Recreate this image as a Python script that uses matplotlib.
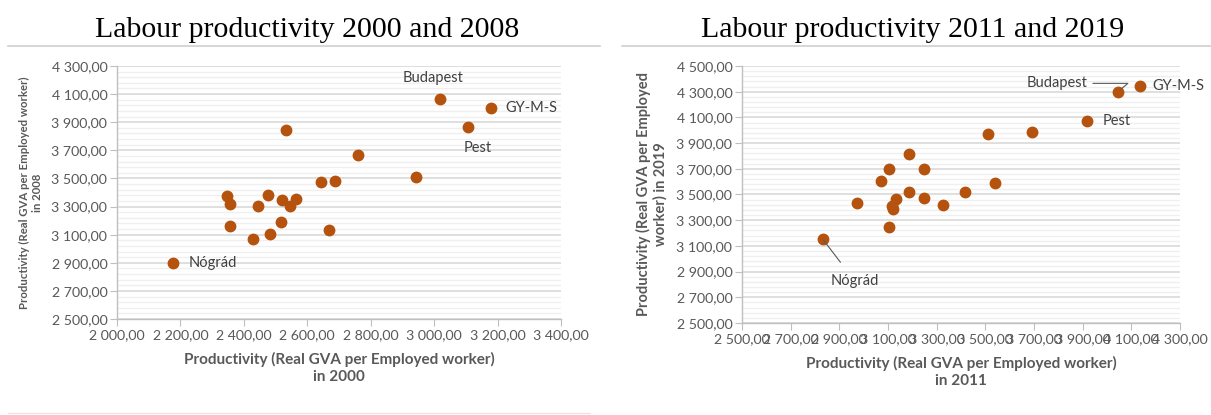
import matplotlib
matplotlib.use("Agg")
import matplotlib.pyplot as plt
from matplotlib.ticker import MultipleLocator, FuncFormatter
from matplotlib.lines import Line2D

# ---- data: left chart (2000 vs 2008) ----
x_2000 = [3018, 3178, 3107, 2533, 2760, 2644, 2687, 2942, 2348, 2356, 2445,
          2476, 2520, 2547, 2564, 2356, 2518, 2481, 2429, 2669, 2177]
y_2008 = [4067, 4003, 3868, 3847, 3664, 3472, 3479, 3508, 3375, 3315, 3304,
          3380, 3346, 3301, 3351, 3159, 3192, 3104, 3069, 3133, 2898]
names_left = ["Budapest", "GY-M-S", "Pest", "", "", "", "", "", "", "", "",
              "", "", "", "", "", "", "", "", "", "Nógrád"]

# ---- data: right chart (2011 vs 2019) ----
x_2011 = [4045, 4135, 3918, 3693, 3512, 3188, 3104, 3249, 3072, 3538,
          2971, 3133, 3186, 3246, 3328, 3416, 3116, 3122, 3104, 2832]
y_2019 = [4300, 4342, 4070, 3988, 3970, 3812, 3698, 3698, 3607, 3587,
          3432, 3465, 3517, 3473, 3419, 3522, 3408, 3385, 3250, 3152]
names_right = ["Budapest", "GY-M-S", "Pest", "", "", "", "", "", "", "",
               "", "", "", "", "", "", "", "", "", "Nógrád"]

titles = ["Labour productivity 2000 and 2008", "Labour productivity 2011 and 2019"]
xlabels = ["Productivity (Real GVA per Employed worker)\nin 2000",
           "Productivity (Real GVA per Employed worker)\nin 2011"]
ylabels = ["Productivity (Real GVA per Employed worker)\nin 2008",
           "Productivity (Real GVA per Employed\nworker) in 2019"]

MARK = "#B4520E"
TXT = "#595959"
GRID = "#D9D9D9"
MINOR = "#EFEFEF"
SPINE = "#BFBFBF"
SANS = ["Lato", "DejaVu Sans"]

def fmt(v, pos):
    s = f"{v:,.2f}"
    return s.replace(",", " ").replace(".", ",")

fig = plt.figure(figsize=(12.11, 4.15), dpi=100)
W, H = 1211, 415

def px_axes(l, r, t, b):
    return fig.add_axes([l / W, 1 - b / H, (r - l) / W, (b - t) / H])

axL = px_axes(117, 561, 66, 319)
axR = px_axes(742, 1180, 66, 323)

def style(ax, xlim, ylim, xoff, xlabel, ylabel, ylab_size):
    ax.set_xlim(*xlim)
    ax.set_ylim(*ylim)
    ax.xaxis.set_major_locator(MultipleLocator(200, offset=xoff))
    ax.yaxis.set_major_locator(MultipleLocator(200, offset=100))
    ax.yaxis.set_minor_locator(MultipleLocator(40, offset=20))
    ax.xaxis.set_major_formatter(FuncFormatter(fmt))
    ax.yaxis.set_major_formatter(FuncFormatter(fmt))
    ax.grid(axis="y", which="major", color=GRID, lw=1.2, zorder=0)
    ax.grid(axis="y", which="minor", color=MINOR, lw=0.9, zorder=0)
    ax.set_axisbelow(True)
    for s in ["top", "right"]:
        ax.spines[s].set_visible(False)
    for s in ["left", "bottom"]:
        ax.spines[s].set_color(SPINE)
        ax.spines[s].set_linewidth(1.0)
    ax.tick_params(axis="both", which="major", direction="out", length=5,
                   color=SPINE, labelcolor=TXT, labelsize=10.2, pad=2)
    ax.tick_params(axis="y", which="minor", length=0)
    for lab in ax.get_xticklabels() + ax.get_yticklabels():
        lab.set_family(SANS)
    ax.set_xlabel(xlabel, family=SANS, fontweight="bold", color=TXT,
                  fontsize=11, labelpad=8, linespacing=1.25)
    ax.set_ylabel(ylabel, family=SANS, fontweight="bold", color=TXT,
                  fontsize=ylab_size, labelpad=6, linespacing=1.2)

style(axL, (2000, 3400), (2500, 4300), 0, xlabels[0], ylabels[0], 8.2)
style(axR, (2500, 4300), (2500, 4500), 100, xlabels[1], ylabels[1], 10.5)

axL.plot(x_2000, y_2008, "o", color=MARK, ms=7.5, mec=MARK, zorder=3, clip_on=False)
axR.plot(x_2011, y_2019, "o", color=MARK, ms=7.5, mec=MARK, zorder=3, clip_on=False)

FS = 10.5

def lab(ax, names, xs, ys, name, **kw):
    i = names.index(name)
    ax.annotate(name, (xs[i], ys[i]), textcoords="offset points",
                family=SANS, fontsize=FS, color="#404040", **kw)

# left labels
lab(axL, names_left, x_2000, y_2008, "Budapest", xytext=(-5, 15), ha="center", va="center")
lab(axL, names_left, x_2000, y_2008, "GY-M-S", xytext=(11, 0), ha="left", va="center")
lab(axL, names_left, x_2000, y_2008, "Pest", xytext=(7, -15), ha="center", va="center")
lab(axL, names_left, x_2000, y_2008, "Nógrád", xytext=(11, 0), ha="left", va="center")

# right labels
i = names_right.index("Budapest")
axR.annotate("Budapest", (x_2011[i], y_2019[i]), xytext=(-22, 6),
             textcoords="offset points", ha="right", va="center",
             family=SANS, fontsize=FS, color="#404040",
             arrowprops=dict(arrowstyle="-", color="#595959", lw=0.8,
                             shrinkA=2, shrinkB=3,
                             connectionstyle="angle,angleA=0,angleB=40,rad=0"))
lab(axR, names_right, x_2011, y_2019, "GY-M-S", xytext=(9, 0), ha="left", va="center")
lab(axR, names_right, x_2011, y_2019, "Pest", xytext=(11, 0), ha="left", va="center")
i = names_right.index("Nógrád")
axR.annotate("Nógrád", (x_2011[i], y_2019[i]), xytext=(23, -30),
             textcoords="offset points", ha="center", va="center",
             family=SANS, fontsize=FS, color="#404040",
             arrowprops=dict(arrowstyle="-", color="#595959", lw=0.8,
                             shrinkA=8, shrinkB=1))

# titles
fig.text(307 / W, 1 - 30 / H, titles[0], ha="center", va="center",
         family=["Liberation Serif", "DejaVu Serif"], fontsize=21.5, color="black")
fig.text(913 / W, 1 - 30 / H, titles[1], ha="center", va="center",
         family=["Liberation Serif", "DejaVu Serif"], fontsize=21.5, color="black")

# frame separator lines
fig.add_artist(Line2D([8 / W, 600 / W], [1 - 46 / H, 1 - 46 / H], color="#D0D0D0", lw=1.2))
fig.add_artist(Line2D([622 / W, 1.0], [1 - 46 / H, 1 - 46 / H], color="#D0D0D0", lw=1.2))
fig.add_artist(Line2D([8 / W, 590 / W], [2 / H, 2 / H], color="#E6E6E6", lw=1.0))

fig.savefig("out.png", dpi=100)
